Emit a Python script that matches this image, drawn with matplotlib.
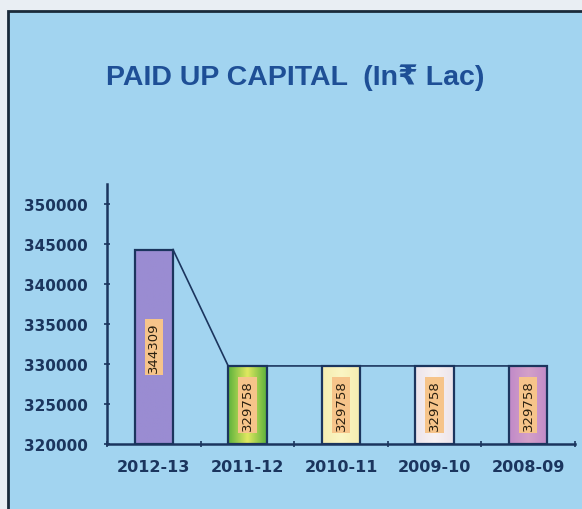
import matplotlib.pyplot as plt
import numpy as np
from matplotlib.patches import Rectangle

# paid up capital, Rs lac
years = ["2012-13", "2011-12", "2010-11", "2009-10", "2008-09"]
capital = [344309, 329758, 329758, 329758, 329758]
yticks = [320000, 325000, 330000, 335000, 340000, 345000, 350000]

# left / centre colours of the gradient fill for each bar
bar_edge_col = ["#9a8cd2", "#5cb23c", "#f4ecb0", "#ece4ec", "#c08ac8"]
bar_mid_col = ["#9a8cd2", "#e0e860", "#fbf6c4", "#f8f2f2", "#d4a0c8"]

BG = "#a2d4f0"
NAVY = "#1b355e"
TITLE = "#1e4f96"

plt.rcParams['font.family'] = ['DejaVu Sans']

fig = plt.figure(figsize=(5.82, 5.10), dpi=100)
fig.patch.set_facecolor("#e9eef3")

# blue panel with dark frame
panel = Rectangle((8 / 582, -0.05), 1.0, (510 - 12) / 510 + 0.05,
                  transform=fig.transFigure, facecolor=BG,
                  edgecolor="#1a2a3a", linewidth=2.0, zorder=-10)
fig.patches.append(panel)

fig.text(0.507, 0.848, "PAID UP CAPITAL  (In₹ Lac)", ha="center", va="center",
         fontsize=20.5, fontweight="bold", color=TITLE,
         family=['Liberation Sans', 'DejaVu Sans'])

ax = fig.add_axes([107 / 582, 65 / 510, 468 / 582, 260 / 510])
ax.set_facecolor("none")

x = np.arange(len(years))
w = 0.41
bars = ax.bar(x, [c - 320000 for c in capital], width=w, bottom=320000,
              color="none", edgecolor=NAVY, linewidth=1.6, zorder=3)

# horizontal gradient inside each bar
for b, c0, c1 in zip(bars, bar_edge_col, bar_mid_col):
    a = np.array(plt.matplotlib.colors.to_rgb(c0))
    m = np.array(plt.matplotlib.colors.to_rgb(c1))
    t = np.abs(np.linspace(-1, 1, 64))[None, :, None]
    img = m * (1 - t) + a * t
    x0, y0 = b.get_x(), b.get_y()
    im = ax.imshow(img, extent=(x0, x0 + b.get_width(), y0, y0 + b.get_height()),
                   aspect="auto", zorder=2, interpolation="bilinear")
    im.set_clip_path(b)

# line joining the bar tops
lx, ly = [], []
for xi, c in zip(x, capital):
    lx += [xi - w / 2, xi + w / 2]
    ly += [c, c]
ax.plot(lx[1:-1], ly[1:-1], color=NAVY, linewidth=1.2, zorder=4)

# value labels
for xi, c in zip(x, capital):
    ax.text(xi, (320000 + c) / 2, str(c), rotation=90, ha="center", va="center",
            fontsize=9.5, color="#2a2010", zorder=5,
            bbox=dict(boxstyle="square,pad=0.2", facecolor="#f6c48a",
                      edgecolor="none"))

ax.set_xlim(-0.5, len(years) - 0.5)
ax.set_ylim(320000, 352500)
ax.set_yticks(yticks)
ax.set_yticklabels([str(v) for v in yticks], fontsize=11, color=NAVY,
                   fontweight="bold")
ax.set_xticks(x)
ax.set_xticklabels(years, fontsize=11.5, color=NAVY, fontweight="bold")
ax.set_xticks(np.arange(-0.5, len(years)), minor=True)
ax.tick_params(axis="x", which="major", length=0, pad=11)
ax.tick_params(axis="x", which="minor", length=5, width=1.2, color=NAVY,
               direction="inout")
ax.tick_params(axis="y", length=4, width=1.2, color=NAVY, direction="inout",
               pad=12)

for s in ["top", "right"]:
    ax.spines[s].set_visible(False)
for s in ["left", "bottom"]:
    ax.spines[s].set_color(NAVY)
    ax.spines[s].set_linewidth(1.8)

fig.savefig("out.png", dpi=100, facecolor=fig.get_facecolor())
